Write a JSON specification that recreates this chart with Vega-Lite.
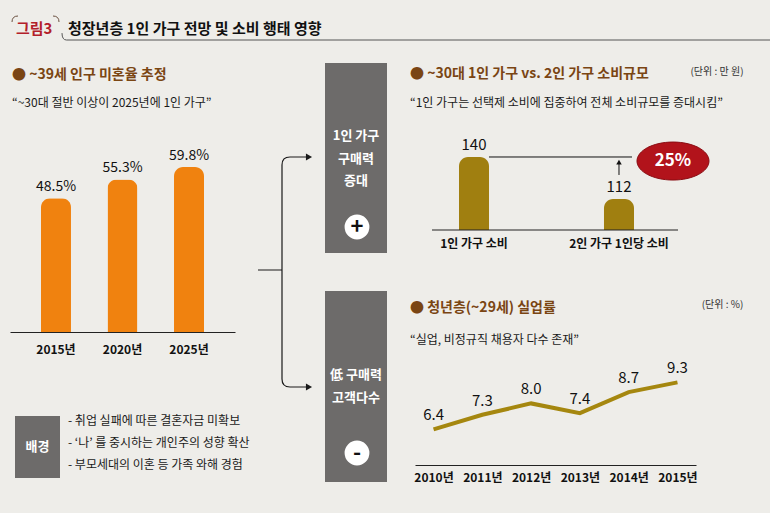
{
  "$schema": "https://vega.github.io/schema/vega-lite/v6.json",
  "background": "#eeede9",
  "padding": {"left": 10, "top": 0, "right": 0, "bottom": 0},
  "bounds": "flush",
  "spacing": 0,
  "config": {
    "font": "Noto Sans CJK KR",
    "view": {"stroke": null},
    "title": {"anchor": "start", "frame": "group", "fontSize": 14, "fontWeight": "bold", "color": "#7a4513", "subtitleFontSize": 12, "subtitleColor": "#1a1a1a", "subtitleFontWeight": "normal"},
    "axis": {"title": null, "domainColor": "#222", "domainWidth": 1.2, "ticks": false, "tickSize": 0, "labelFontSize": 12, "labelFontWeight": "bold", "labelColor": "#111", "labelAngle": 0, "grid": false}
  },
  "vconcat": [
    {
      "width": 760, "height": 63,
      "data": {"values": [{}]},
      "layer": [
        {"mark": {"type": "text", "align": "left", "baseline": "middle", "fontSize": 15, "fontWeight": "bold", "color": "#b3202a"},
         "encoding": {"x": {"datum": 6, "type": "quantitative", "scale": {"domain": [0, 760], "nice": false}, "axis": null},
                      "y": {"datum": 29, "type": "quantitative", "scale": {"domain": [0, 63], "nice": false, "reverse": true}, "axis": null},
                      "text": {"value": "그림3"}}},
        {"mark": {"type": "text", "align": "left", "baseline": "middle", "fontSize": 15, "fontWeight": "bold", "color": "#111"},
         "encoding": {"x": {"datum": 58, "type": "quantitative", "scale": {"domain": [0, 760], "nice": false}, "axis": null},
                      "y": {"datum": 29, "type": "quantitative", "scale": {"domain": [0, 63], "nice": false, "reverse": true}, "axis": null},
                      "text": {"value": "청장년층 1인 가구 전망 및 소비 행태 영향"}}},
        {"mark": {"type": "rule", "color": "#555", "strokeWidth": 1},
         "encoding": {"x": {"datum": 56.5, "type": "quantitative", "scale": {"domain": [0, 760], "nice": false}, "axis": null},
                      "x2": {"datum": 760},
                      "y": {"datum": 40, "type": "quantitative", "scale": {"domain": [0, 63], "nice": false, "reverse": true}, "axis": null}}},
        {"mark": {"type": "point", "shape": "M0,-1.3Q0,1,1.5,1", "filled": false, "color": "#555", "strokeWidth": 1, "size": 36, "opacity": 1},
         "encoding": {"x": {"datum": 52, "type": "quantitative", "scale": {"domain": [0, 760], "nice": false}, "axis": null},
                      "y": {"datum": 37, "type": "quantitative", "scale": {"domain": [0, 63], "nice": false, "reverse": true}, "axis": null}}},
        {"mark": {"type": "point", "shape": "M-1,1Q-1,-1,1,-1", "filled": false, "color": "#6a5040", "strokeWidth": 1, "size": 36, "opacity": 1},
         "encoding": {"x": {"datum": 5, "type": "quantitative", "scale": {"domain": [0, 760], "nice": false}, "axis": null},
                      "y": {"datum": 19, "type": "quantitative", "scale": {"domain": [0, 63], "nice": false, "reverse": true}, "axis": null}}},
        {"mark": {"type": "point", "shape": "M-1,-1Q1,-1,1,1", "filled": false, "color": "#6a5040", "strokeWidth": 1, "size": 36, "opacity": 1},
         "encoding": {"x": {"datum": 46, "type": "quantitative", "scale": {"domain": [0, 760], "nice": false}, "axis": null},
                      "y": {"datum": 19, "type": "quantitative", "scale": {"domain": [0, 63], "nice": false, "reverse": true}, "axis": null}}},
        {"mark": {"type": "point", "shape": "M-2.7,-0.2L-0.3,-0.2M2.1,-11.5L0.5,-11.5Q-0.3,-11.5,-0.3,-10.7L-0.3,10.7Q-0.3,11.5,0.5,11.5L2.1,11.5", "filled": false, "color": "#1a1a1a", "strokeWidth": 1.2, "size": 400, "opacity": 1},
         "encoding": {"x": {"datum": 275, "type": "quantitative", "scale": {"domain": [0, 760], "nice": false}, "axis": null},
                      "y": {"datum": 272, "type": "quantitative", "scale": {"domain": [0, 63], "nice": false, "reverse": true}, "axis": null}}},
        {"mark": {"type": "point", "shape": "triangle-right", "filled": true, "color": "#1a1a1a", "size": 50, "opacity": 1},
         "encoding": {"x": {"datum": 299, "type": "quantitative", "scale": {"domain": [0, 760], "nice": false}, "axis": null},
                      "y": {"datum": 157, "type": "quantitative", "scale": {"domain": [0, 63], "nice": false, "reverse": true}, "axis": null}}},
        {"mark": {"type": "point", "shape": "triangle-right", "filled": true, "color": "#1a1a1a", "size": 50, "opacity": 1},
         "encoding": {"x": {"datum": 299, "type": "quantitative", "scale": {"domain": [0, 760], "nice": false}, "axis": null},
                      "y": {"datum": 387, "type": "quantitative", "scale": {"domain": [0, 63], "nice": false, "reverse": true}, "axis": null}}},
        {"mark": {"type": "rect", "color": "#6d6b6a"},
         "encoding": {"x": {"datum": 315, "type": "quantitative", "scale": {"domain": [0, 760], "nice": false}, "axis": null},
                      "x2": {"datum": 377},
                      "y": {"datum": 63, "type": "quantitative", "scale": {"domain": [0, 63], "nice": false, "reverse": true}, "axis": null},
                      "y2": {"datum": 253}}},
        {"mark": {"type": "rect", "color": "#6d6b6a"},
         "encoding": {"x": {"datum": 315, "type": "quantitative", "scale": {"domain": [0, 760], "nice": false}, "axis": null},
                      "x2": {"datum": 377},
                      "y": {"datum": 291, "type": "quantitative", "scale": {"domain": [0, 63], "nice": false, "reverse": true}, "axis": null},
                      "y2": {"datum": 482}}},
        {"mark": {"type": "text", "align": "center", "baseline": "top", "fontSize": 13, "fontWeight": "bold", "lineHeight": 22.5, "color": "#ffffff"},
         "encoding": {"x": {"datum": 346, "type": "quantitative", "scale": {"domain": [0, 760], "nice": false}, "axis": null},
                      "y": {"datum": 130, "type": "quantitative", "scale": {"domain": [0, 63], "nice": false, "reverse": true}, "axis": null},
                      "text": {"value": ["1인 가구", "구매력", "증대"]}}},
        {"mark": {"type": "text", "align": "center", "baseline": "top", "fontSize": 13, "fontWeight": "bold", "lineHeight": 22.5, "color": "#ffffff"},
         "encoding": {"x": {"datum": 346, "type": "quantitative", "scale": {"domain": [0, 760], "nice": false}, "axis": null},
                      "y": {"datum": 369, "type": "quantitative", "scale": {"domain": [0, 63], "nice": false, "reverse": true}, "axis": null},
                      "text": {"value": ["低 구매력", "고객다수"]}}},
        {"mark": {"type": "point", "shape": "circle", "filled": true, "color": "#ffffff", "size": 616, "opacity": 1},
         "encoding": {"x": {"datum": 347, "type": "quantitative", "scale": {"domain": [0, 760], "nice": false}, "axis": null},
                      "y": {"datum": 227, "type": "quantitative", "scale": {"domain": [0, 63], "nice": false, "reverse": true}, "axis": null}}},
        {"mark": {"type": "point", "shape": "circle", "filled": true, "color": "#ffffff", "size": 616, "opacity": 1},
         "encoding": {"x": {"datum": 347, "type": "quantitative", "scale": {"domain": [0, 760], "nice": false}, "axis": null},
                      "y": {"datum": 453, "type": "quantitative", "scale": {"domain": [0, 63], "nice": false, "reverse": true}, "axis": null}}},
        {"mark": {"type": "text", "align": "center", "baseline": "middle", "fontSize": 22, "fontWeight": "bold", "color": "#111"},
         "encoding": {"x": {"datum": 347, "type": "quantitative", "scale": {"domain": [0, 760], "nice": false}, "axis": null},
                      "y": {"datum": 227, "type": "quantitative", "scale": {"domain": [0, 63], "nice": false, "reverse": true}, "axis": null},
                      "text": {"value": "+"}}},
        {"mark": {"type": "text", "align": "center", "baseline": "middle", "fontSize": 22, "fontWeight": "bold", "color": "#111"},
         "encoding": {"x": {"datum": 347, "type": "quantitative", "scale": {"domain": [0, 760], "nice": false}, "axis": null},
                      "y": {"datum": 453, "type": "quantitative", "scale": {"domain": [0, 63], "nice": false, "reverse": true}, "axis": null},
                      "text": {"value": "-"}}}
      ]
    },
    {
      "spacing": 405,
      "bounds": "flush",
      "hconcat": [
        {
          "spacing": 0,
          "bounds": "flush",
          "vconcat": [
            {
              "width": 225, "height": 269,
              "title": {"text": "● ~39세 인구 미혼율 추정", "subtitle": "\u00a0“~30대 절반 이상이 2025년에 1인 가구”", "offset": -46, "subtitlePadding": 16, "dx": 2},
              "data": {"values": [{"year": "2015년", "rate": 0.485}, {"year": "2020년", "rate": 0.553}, {"year": "2025년", "rate": 0.598}]},
              "encoding": {
                "x": {"field": "year", "type": "nominal", "sort": null, "scale": {"type": "band", "paddingInner": 0.549, "paddingOuter": 0.466}, "axis": {"labelPadding": 12}},
                "y": {"field": "rate", "type": "quantitative", "scale": {"domain": [0, 0.975], "nice": false}, "axis": null}
              },
              "layer": [
                {"mark": {"type": "bar", "color": "#f0820f", "cornerRadiusTopLeft": 9, "cornerRadiusTopRight": 9}},
                {"mark": {"type": "text", "baseline": "bottom", "dy": -4, "fontSize": 14, "color": "#111"},
                 "encoding": {"text": {"field": "rate", "type": "quantitative", "format": ".1%"}}}
              ]
            },
            {
              "width": 225, "height": 181,
              "data": {"values": [{}]},
              "layer": [
                {"mark": {"type": "rect", "color": "#6d6b6a"},
                 "encoding": {"x": {"datum": 5, "type": "quantitative", "scale": {"domain": [0, 225], "nice": false}, "axis": null},
                              "x2": {"datum": 50},
                              "y": {"datum": 84, "type": "quantitative", "scale": {"domain": [0, 181], "nice": false, "reverse": true}, "axis": null},
                              "y2": {"datum": 146}}},
                {"mark": {"type": "text", "align": "center", "baseline": "middle", "fontSize": 13, "fontWeight": "bold", "color": "#ffffff"},
                 "encoding": {"x": {"datum": 27.5, "type": "quantitative", "scale": {"domain": [0, 225], "nice": false}, "axis": null},
                              "y": {"datum": 115, "type": "quantitative", "scale": {"domain": [0, 181], "nice": false, "reverse": true}, "axis": null},
                              "text": {"value": "배경"}}},
                {"mark": {"type": "text", "align": "left", "baseline": "top", "fontSize": 12, "lineHeight": 22, "color": "#1a1a1a"},
                 "encoding": {"x": {"datum": 58, "type": "quantitative", "scale": {"domain": [0, 225], "nice": false}, "axis": null},
                              "y": {"datum": 84, "type": "quantitative", "scale": {"domain": [0, 181], "nice": false, "reverse": true}, "axis": null},
                              "text": {"value": ["- 취업 실패에 따른 결혼자금 미확보", "- ‘나’ 를 중시하는 개인주의 성향 확산", "- 부모세대의 이혼 등 가족 와해 경험"]}}}
              ]
            }
          ]
        },
        {
          "spacing": 0,
          "bounds": "flush",
          "vconcat": [
            {
              "width": 263, "height": 167,
              "title": {"text": "● ~30대 1인 가구 vs. 2인 가구 소비규모", "subtitle": "\u00a0\u00a0\u00a0“1인 가구는 선택제 소비에 집중하여 전체 소비규모를 증대시킴”", "offset": -46, "subtitlePadding": 17, "dx": -5},
              "data": {"values": [{"group": "1인 가구 소비", "spend": 140}, {"group": "2인 가구 1인당 소비", "spend": 112}]},
              "encoding": {
                "x": {"field": "group", "type": "nominal", "sort": null, "scale": {"type": "band", "paddingInner": 0.793, "paddingOuter": 0.3035}, "axis": {"labelPadding": 8, "domain": false}},
                "y": {"field": "spend", "type": "quantitative", "scale": {"domain": [91.3, 202.7], "nice": false, "zero": false}, "axis": null}
              },
              "layer": [
                {"mark": {"type": "bar", "color": "#a07f10", "cornerRadiusTopLeft": 9, "cornerRadiusTopRight": 9},
                 "encoding": {"y2": {"datum": 91.3}}},
                {"mark": {"type": "text", "baseline": "bottom", "dy": -4, "fontSize": 15, "color": "#111"},
                 "encoding": {"text": {"field": "spend", "type": "quantitative"}}},
                {"transform": [{"filter": "datum.spend == 140"}],
                 "mark": {"type": "point", "shape": "M-4.2,0L20.4,0", "filled": false, "color": "#222", "strokeWidth": 1.2, "size": 400, "opacity": 1},
                 "encoding": {"y": {"datum": 91.3}}},
                {"transform": [{"filter": "datum.spend == 112"}],
                 "mark": {"type": "point", "shape": "M-13,0L1.3,0", "filled": false, "color": "#111", "strokeWidth": 1, "size": 400, "opacity": 1},
                 "encoding": {"y": {"datum": 140}}},
                {"transform": [{"filter": "datum.spend == 112"}],
                 "mark": {"type": "rule", "color": "#111", "strokeWidth": 1},
                 "encoding": {"y": {"datum": 128}, "y2": {"datum": 136}}},
                {"transform": [{"filter": "datum.spend == 112"}],
                 "mark": {"type": "point", "shape": "triangle-up", "filled": true, "color": "#111", "size": 30, "opacity": 1},
                 "encoding": {"y": {"datum": 136.6}}},
                {"transform": [{"filter": "datum.spend == 112"}],
                 "mark": {"type": "point", "shape": "M1.8,0C1.8,-1.049,3.412,-1.9,5.4,-1.9C7.388,-1.9,9,-1.049,9,0C9,1.049,7.388,1.9,5.4,1.9C3.412,1.9,1.8,1.049,1.8,0Z", "filled": true, "color": "#b2131b", "stroke": "#8a0c12", "strokeWidth": 1, "size": 400, "opacity": 1},
                 "encoding": {"y": {"datum": 137.3}}},
                {"transform": [{"filter": "datum.spend == 112"}],
                 "mark": {"type": "text", "align": "center", "baseline": "middle", "dx": 54, "fontSize": 17, "fontWeight": "bold", "color": "#ffffff"},
                 "encoding": {"y": {"datum": 137.3}, "text": {"value": "25%"}}},
                {"transform": [{"filter": "datum.spend == 112"}],
                 "mark": {"type": "text", "align": "center", "baseline": "middle", "dx": 98, "fontSize": 10, "color": "#333"},
                 "encoding": {"y": {"datum": 196.7}, "text": {"value": "(단위 : 만 원)"}}}
              ]
            },
            {
              "width": 281, "height": 235,
              "title": {"text": "● 청년층(~29세) 실업률", "subtitle": "\u00a0\u00a0\u00a0\u00a0\u00a0“실업, 비정규직 채용자 다수 존재”", "offset": -116, "subtitlePadding": 20, "dx": -5},
              "data": {"values": [{"year": "2010년", "rate": 6.4}, {"year": "2011년", "rate": 7.3}, {"year": "2012년", "rate": 8.0}, {"year": "2013년", "rate": 7.4}, {"year": "2014년", "rate": 8.7}, {"year": "2015년", "rate": 9.3}]},
              "encoding": {
                "x": {"field": "year", "type": "ordinal", "sort": null, "scale": {"type": "point", "padding": 0.38}, "axis": {"labelPadding": 7}},
                "y": {"field": "rate", "type": "quantitative", "scale": {"domain": [4.2, 18.7], "nice": false, "zero": false}, "axis": null}
              },
              "layer": [
                {"mark": {"type": "line", "color": "#a5870f", "strokeWidth": 4}},
                {"mark": {"type": "text", "baseline": "bottom", "dy": -6, "fontSize": 15, "color": "#111"},
                 "encoding": {"text": {"field": "rate", "type": "quantitative", "format": ".1f"}}},
                {"transform": [{"filter": "datum.year == '2015년'"}],
                 "mark": {"type": "text", "align": "center", "baseline": "middle", "dx": 45, "fontSize": 10, "color": "#333"},
                 "encoding": {"y": {"datum": 14.07}, "text": {"value": "(단위 : %)"}}}
              ]
            }
          ]
        }
      ]
    }
  ]
}
